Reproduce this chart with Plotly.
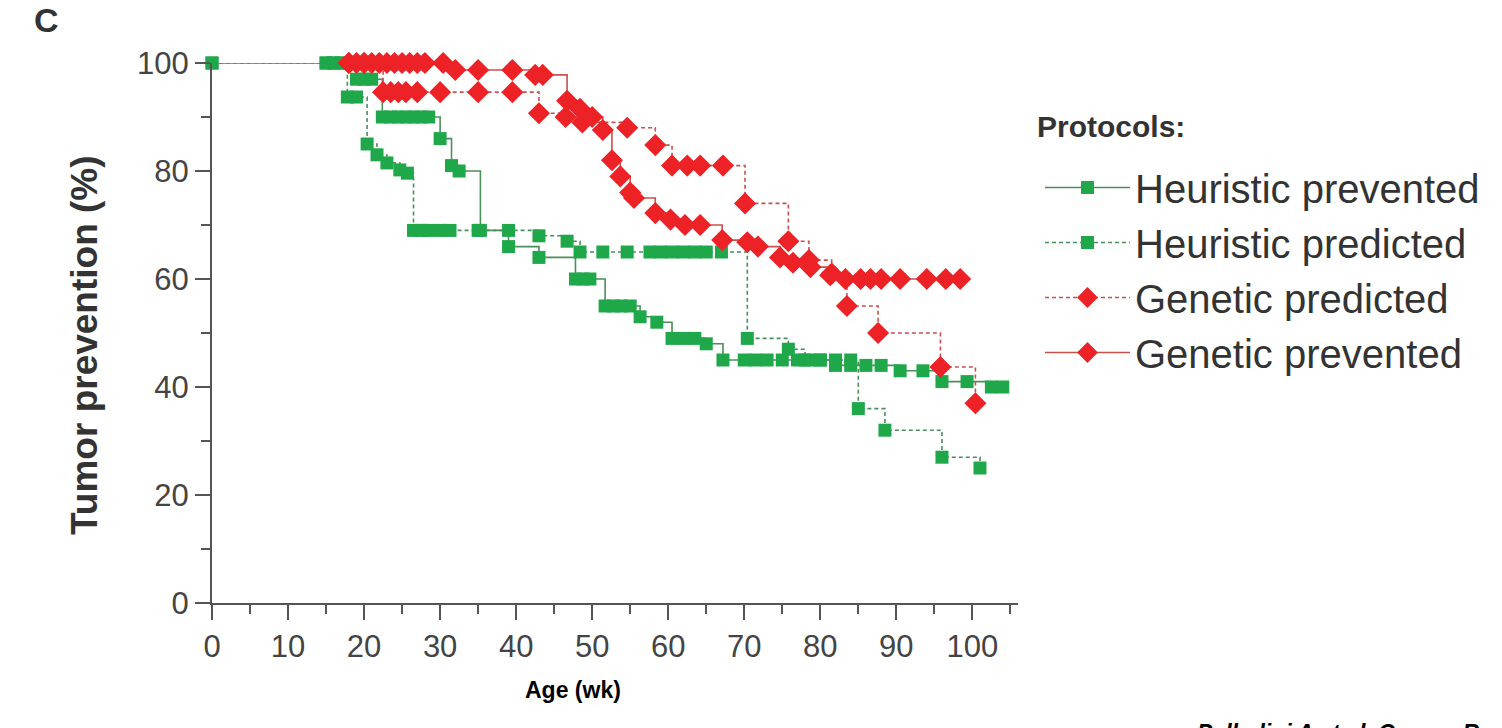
import plotly.graph_objects as go

# ---- data (weeks, % tumor-free) ----
heur_prev_t = [0, 15, 16, 17, 18, 19, 20, 21, 22.4, 23.5, 24.5, 25.5, 26.5, 27.5, 28.5, 30, 31.5, 32.5,
               35.3, 39, 43, 47.8, 48.8, 49.7, 51.7, 52.8, 53.8, 55, 56.3, 58.5, 60.5, 62, 63.5, 65,
               67.2, 70, 71.5, 73, 75, 77, 78.5, 80, 82, 84, 86, 88, 90.5, 93.5, 96, 99.3, 102.5, 104]
heur_prev_v = [100, 100, 100, 100, 100, 97, 97, 97, 90, 90, 90, 90, 90, 90, 90, 86, 81, 80,
               69, 66, 64, 60, 60, 60, 55, 55, 55, 55, 53, 52, 49, 49, 49, 48,
               45, 45, 45, 45, 45, 45, 45, 45, 44, 44, 44, 44, 43, 43, 41, 41, 40, 40]

heur_pred_t = [0, 15, 16, 17, 17.8, 19, 20.4, 21.7, 23, 24.7, 25.7, 26.5, 27.5, 28.4, 30, 31.3, 35,
               39, 43, 46.7, 48.4, 51.4, 54.6, 57.6, 59, 60.5, 62, 63.5, 65, 67, 70.4, 75.8, 78,
               80, 82, 84, 85, 88.5, 96, 101]
heur_pred_v = [100, 100, 100, 100, 93.7, 93.7, 85, 83, 81.5, 80.2, 79.6, 69, 69, 69, 69, 69, 69,
               69, 68, 67, 65, 65, 65, 65, 65, 65, 65, 65, 65, 65, 49, 47, 45,
               45, 45, 45, 36, 32, 27, 25]

gen_pred_t = [18, 20, 22.5, 23.5, 24.5, 25.5, 27, 30, 35, 39.5, 43, 46.5, 48.7, 54.6, 58.3, 60.5,
              62.5, 64.2, 67.2, 70.1, 75.8, 78.5, 81.5, 83.5, 87.6, 95.8, 100.4]
gen_pred_v = [100, 100, 94.6, 94.6, 94.6, 94.6, 94.6, 94.6, 94.6, 94.6, 90.7, 90, 89, 88, 84.8, 81,
              81, 81, 81, 74, 67, 63.5, 61, 55, 50, 43.7, 37]

gen_prev_t = [18, 19, 20, 21, 22, 23, 24, 25, 26, 27, 28, 30.4, 32, 35, 39.5, 42.5, 43.5, 46.7,
              48.4, 50, 51.4, 52.6, 53.7, 55, 55.5, 58.3, 60.3, 62.2, 64.2, 67.1, 70.4, 71.8, 74.7,
              76.4, 78.7, 81.3, 83.3, 85.3, 86.6, 88, 90.5, 94, 96.5, 98.4]
gen_prev_v = [100, 100, 100, 100, 100, 100, 100, 100, 100, 100, 100, 100, 98.7, 98.7, 98.7, 97.8, 97.8, 93,
              91.5, 90, 87.6, 82, 79, 76, 75, 72.2, 71, 70, 70, 67.2, 66.8, 66, 64,
              63, 62.2, 60.7, 60, 60, 60, 60, 60, 60, 60, 60]

x_ticks = [0, 10, 20, 30, 40, 50, 60, 70, 80, 90, 100]
y_ticks = [0, 20, 40, 60, 80, 100]

GREEN = "#1fa84a"
GREEN_LINE = "#4b8f5a"
RED = "#ec2226"
RED_LINE = "#c9514c"
FONT = "Liberation Sans, Arial, sans-serif"

fig = go.Figure()

def add(name, t, v, mcol, lcol, symbol, dash, size):
    fig.add_trace(go.Scatter(
        x=t, y=v, name=name, mode="lines+markers", line_shape="hv",
        line=dict(color=lcol, width=1.6, dash=dash),
        marker=dict(color=mcol, symbol=symbol, size=size, line=dict(width=0)),
        cliponaxis=False))

add("Heuristic prevented", heur_prev_t, heur_prev_v, GREEN, GREEN_LINE, "square", "solid", 13)
add("Heuristic predicted", heur_pred_t, heur_pred_v, GREEN, GREEN_LINE, "square", "4px,3px", 13)
add("Genetic predicted", gen_pred_t, gen_pred_v, RED, RED_LINE, "diamond", "4px,3px", 17)
add("Genetic prevented", gen_prev_t, gen_prev_v, RED, RED_LINE, "diamond", "solid", 17)

axis_common = dict(showline=True, linecolor="#555", linewidth=2, ticks="outside",
                   tickcolor="#555", tickwidth=2, ticklen=15, showgrid=False, zeroline=False,
                   tickfont=dict(family=FONT, size=31, color="#444"))

fig.update_xaxes(range=[0, 106], tickvals=x_ticks,
                 minor=dict(dtick=5, tick0=0, ticks="outside", ticklen=9, tickcolor="#555", tickwidth=2),
                 **axis_common)
fig.update_yaxes(range=[0, 100], tickvals=y_ticks,
                 minor=dict(dtick=10, tick0=0, ticks="outside", ticklen=9, tickcolor="#555", tickwidth=2),
                 **axis_common)

L, T, W, H = 212, 63, 806, 540


def px_to_paper(px, py):
    return (px - L) / W, (T + H - py) / H


lx, ly = px_to_paper(1040, 155)

annots = []
ax, ay = px_to_paper(46, 20)
annots.append(dict(text="<b>C</b>", x=ax, y=ay, xref="paper", yref="paper", showarrow=False,
                   font=dict(family=FONT, size=34, color="#333"), xanchor="center", yanchor="middle"))
tx, ty = px_to_paper(85, 345)
annots.append(dict(text="<b>Tumor prevention (%)</b>", x=tx, y=ty, xref="paper", yref="paper",
                   showarrow=False, textangle=-90, xanchor="center", yanchor="middle",
                   font=dict(family=FONT, size=37, color="#333")))
tx, ty = px_to_paper(573, 690)
annots.append(dict(text="<b>Age (wk)</b>", x=tx, y=ty, xref="paper", yref="paper",
                   showarrow=False, xanchor="center", yanchor="middle",
                   font=dict(family=FONT, size=23, color="black")))
tx, ty = px_to_paper(1035, 127)
annots.append(dict(text="<b>Protocols:</b>", x=tx, y=ty, xref="paper", yref="paper",
                   showarrow=False, xanchor="left", yanchor="middle",
                   font=dict(family=FONT, size=30, color="#333")))
tx, ty = px_to_paper(1195, 718)
annots.append(dict(text="<b><i>Palladini A et al. Cancer Res</i></b>", x=tx, y=ty, xref="paper", yref="paper",
                   showarrow=False, xanchor="left", yanchor="top",
                   font=dict(family=FONT, size=23, color="black")))

fig.update_layout(
    width=1502, height=728,
    margin=dict(l=L, r=1502 - L - W, t=T, b=728 - T - H),
    paper_bgcolor="white", plot_bgcolor="white",
    showlegend=True,
    legend=dict(x=lx, y=ly, xanchor="left", yanchor="top",
                font=dict(family=FONT, size=40, color="#333"),
                bgcolor="rgba(0,0,0,0)", itemwidth=85),
    annotations=annots,
)

fig.write_html("out.html")
